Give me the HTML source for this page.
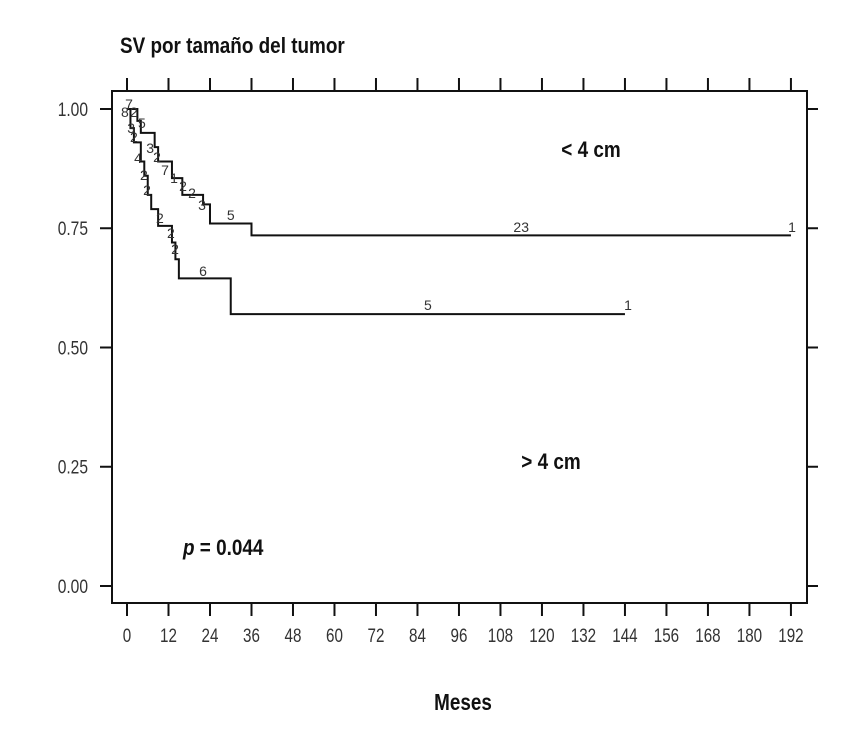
<!DOCTYPE html>
<html><head><meta charset="utf-8"><style>
html,body{margin:0;padding:0;background:#fff;}
svg{display:block;font-family:"Liberation Sans",sans-serif;}
</style></head><body>
<svg id="chart" width="866" height="745" viewBox="0 0 866 745" xmlns="http://www.w3.org/2000/svg">
<text x="120" y="53" font-size="22" font-weight="bold" fill="#111" transform="translate(120 0) scale(0.86 1) translate(-120 0)">SV por tamaño del tumor</text>
<rect x="112" y="91" width="695" height="512" fill="none" stroke="#111" stroke-width="2"/>
<g id="axes"></g>
<g id="series"></g>
<text x="463" y="710" font-size="23" font-weight="bold" text-anchor="middle" fill="#111" transform="translate(463 0) scale(0.82 1) translate(-463 0)">Meses</text>
<text x="591" y="157" font-size="22" font-weight="bold" text-anchor="middle" fill="#111" transform="translate(591 0) scale(0.86 1) translate(-591 0)">&lt; 4 cm</text>
<text x="551" y="469" font-size="22" font-weight="bold" text-anchor="middle" fill="#111" transform="translate(551 0) scale(0.86 1) translate(-551 0)">&gt; 4 cm</text>
<text x="183" y="555" font-size="22" font-weight="bold" fill="#111" transform="translate(183 0) scale(0.86 1) translate(-183 0)"><tspan font-style="italic">p</tspan> = 0.044</text>
</svg>
<script>
const xTicks=[0,12,24,36,48,60,72,84,96,108,120,132,144,156,168,180,192];
const yTicks=[0,0.25,0.5,0.75,1.0];
const yTickLabels=["0.00","0.25","0.50","0.75","1.00"];
const smallTimes=[0,3,4,8,9,13,16,22,24,36,192];
const smallSurv=[1.0,0.975,0.95,0.92,0.89,0.855,0.82,0.80,0.76,0.735,0.735];
const largeTimes=[0,1,2,4,5,6,7,9,13,14,15,30,144];
const largeSurv=[1.0,0.96,0.93,0.89,0.86,0.82,0.79,0.755,0.72,0.685,0.645,0.57,0.57];
const smallLabT=[0.6,2,4.3,6.7,8.7,11,13.6,16.2,18.8,21.7,30,114,192.3];
const smallLabS=[1.0,0.983,0.96,0.908,0.889,0.862,0.845,0.828,0.813,0.788,0.767,0.742,0.742];
const smallLabTxt=["7","2","5","3","2","7","1","2","2","3","5","23","1"];
const largeLabT=[-0.6,1.2,2,3.2,4.9,5.8,9.5,12.7,13.9,22,87,144.9];
const largeLabS=[0.983,0.95,0.931,0.887,0.851,0.82,0.761,0.73,0.696,0.65,0.579,0.579];
const largeLabTxt=["8","3","2","4","2","2","2","2","2","6","5","1"];
const X=t=>127+t*3.458, Y=s=>586-s*477;
const NS="http://www.w3.org/2000/svg";
const axes=document.getElementById('axes'), ser=document.getElementById('series');
function mk(tag,attrs,parent){const e=document.createElementNS(NS,tag);for(const k in attrs)e.setAttribute(k,attrs[k]);parent.appendChild(e);return e;}
xTicks.forEach((t,i)=>{
  const b=mk('line',{x1:X(t),x2:X(t),y1:603,y2:616,stroke:'#111','stroke-width':2},axes);
  
  
  const tp=mk('line',{x1:X(t),x2:X(t),y1:78,y2:91,stroke:'#111','stroke-width':2},axes);
  
  
  const l=mk('text',{x:X(t),y:642,'font-size':19,'text-anchor':'middle',fill:'#333',transform:`translate(${X(t)} 0) scale(0.8 1) translate(${-X(t)} 0)`},axes);
  l.textContent=t;
  
  
});
yTicks.forEach((s,i)=>{
  const a=mk('line',{x1:100,x2:112,y1:Y(s),y2:Y(s),stroke:'#111','stroke-width':2},axes);
  
  
  const r=mk('line',{x1:807,x2:818,y1:Y(s),y2:Y(s),stroke:'#111','stroke-width':2},axes);
  
  
  const l=mk('text',{x:88,y:Y(s)+7,'font-size':19,'text-anchor':'end',fill:'#333',transform:`translate(88 0) scale(0.82 1) translate(-88 0)`},axes);
  l.textContent=yTickLabels[i];
  
  
});
function stepPath(T,S){let d=`M${X(T[0])},${Y(S[0])}`;for(let i=1;i<T.length;i++){d+=` H${X(T[i])} V${Y(S[i])}`;}return d;}
const p1=mk('path',{d:stepPath(smallTimes,smallSurv),fill:'none',stroke:'#111','stroke-width':2},ser);


const p2=mk('path',{d:stepPath(largeTimes,largeSurv),fill:'none',stroke:'#111','stroke-width':2},ser);


function labels(T,S,txt,name){T.forEach((t,i)=>{const e=mk('text',{x:X(t),y:Y(S[i]),'font-size':14,'text-anchor':'middle',fill:'#333'},ser);e.textContent=txt[i];
  
  });}
labels(smallLabT,smallLabS,smallLabTxt,'at-risk-label-small');
labels(largeLabT,largeLabS,largeLabTxt,'at-risk-label-large');
</script>
</body></html>
